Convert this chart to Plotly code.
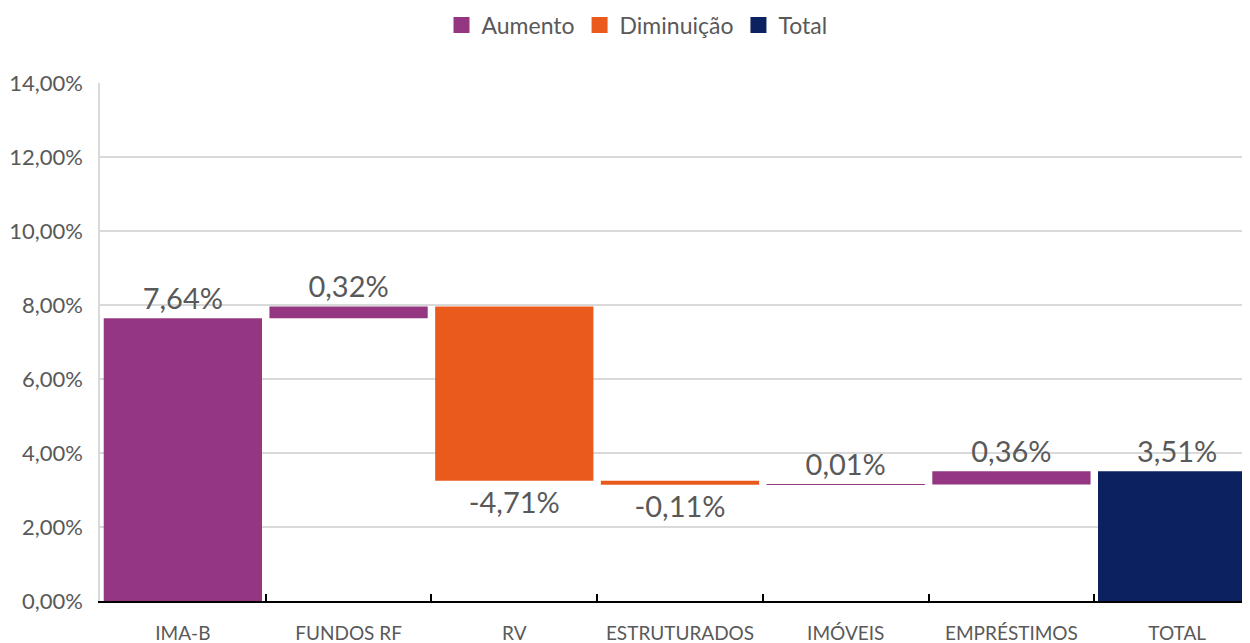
import plotly.graph_objects as go

# dados
categorias = ["IMA-B", "FUNDOS RF", "RV", "ESTRUTURADOS", "IMÓVEIS", "EMPRÉSTIMOS"]
variacoes = [7.64, 0.32, -4.71, -0.11, 0.01, 0.36]
total_label = "TOTAL"
total_valor = 3.51

cor_aumento = "#943681"
cor_diminuicao = "#E95A1C"
cor_total = "#0B2160"


def fmt(v):
    return f"{v:.2f}".replace(".", ",") + "%"


# bases acumuladas
bases = []
acum = 0.0
for v in variacoes:
    bases.append(acum)
    acum += v

up = [(c, v, b) for c, v, b in zip(categorias, variacoes, bases) if v >= 0]
down = [(c, v, b) for c, v, b in zip(categorias, variacoes, bases) if v < 0]

text_font = dict(family="Lato, sans-serif", size=29, color="#595959")

fig = go.Figure()
fig.add_trace(go.Bar(
    name="Aumento", showlegend=False,
    x=[u[0] for u in up], y=[u[1] for u in up], base=[u[2] for u in up],
    marker=dict(color=cor_aumento, line=dict(width=0)),
    text=[fmt(u[1]) for u in up], textposition="outside",
    textfont=text_font, constraintext="none", cliponaxis=False,
))
fig.add_trace(go.Bar(
    name="Diminuição", showlegend=False,
    x=[d[0] for d in down], y=[d[1] for d in down], base=[d[2] for d in down],
    marker=dict(color=cor_diminuicao, line=dict(width=0)),
    text=[fmt(d[1]) for d in down], textposition="outside",
    textfont=text_font, constraintext="none", cliponaxis=False,
))
fig.add_trace(go.Bar(
    name="Total", showlegend=False,
    x=[total_label], y=[total_valor], base=[0],
    marker=dict(color=cor_total, line=dict(width=0)),
    text=[fmt(total_valor)], textposition="outside",
    textfont=text_font, constraintext="none", cliponaxis=False,
))

# entradas da legenda com quadrados maiores
for nome, cor in [("Aumento", cor_aumento), ("Diminuição", cor_diminuicao), ("Total", cor_total)]:
    fig.add_trace(go.Scatter(
        name=nome, x=[None], y=[None], mode="markers",
        marker=dict(symbol="square", size=20, color=cor), hoverinfo="skip",
    ))

# a página tem margem de 8px no body, compensada aqui
fig.update_layout(
    width=1260, height=643,
    margin=dict(l=92, r=8, t=75, b=50),
    paper_bgcolor="white", plot_bgcolor="white",
    barmode="overlay", bargap=0.045,
    font=dict(family="Lato, sans-serif", color="#595959"),
    legend=dict(orientation="h", x=629 / 1260, xanchor="center", xref="container",
                y=1 - 17 / 643, yanchor="middle", yref="container",
                font=dict(size=23), itemwidth=30, traceorder="normal"),
    showlegend=True,
    separators=",.",
)
fig.update_xaxes(
    categoryorder="array", categoryarray=categorias + [total_label],
    showgrid=False, showline=True, linecolor="black", linewidth=2,
    ticks="inside", tickson="boundaries", ticklen=7, tickcolor="black", tickwidth=2,
    tickfont=dict(size=19, color="#595959"), ticklabelstandoff=14,
    automargin=False,
)
fig.update_yaxes(
    range=[0, 14], dtick=2, tickformat=".2f", ticksuffix="%",
    showgrid=True, gridcolor="#d9d9d9", gridwidth=1.5,
    showline=True, linecolor="#d9d9d9", linewidth=1.5,
    zeroline=False, ticks="", ticklabelstandoff=11,
    tickfont=dict(size=22, color="#595959"),
    automargin=False,
)

fig.write_html("out.html")
